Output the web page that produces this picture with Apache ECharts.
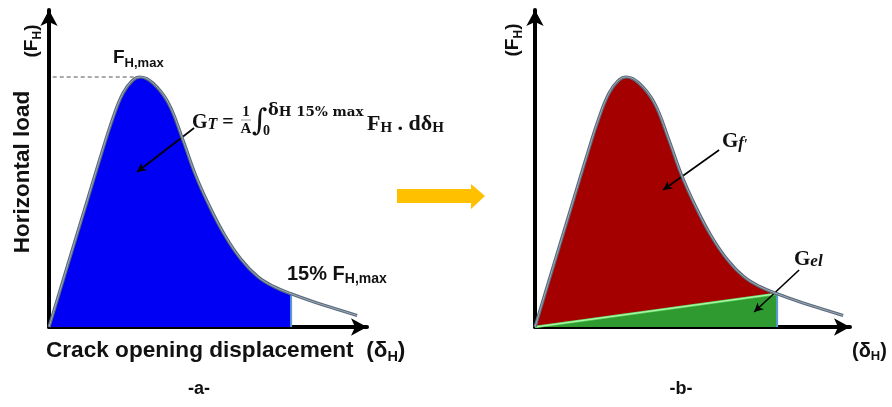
<!DOCTYPE html>
<html>
<head>
<meta charset="utf-8">
<script src="https://cdn.jsdelivr.net/npm/echarts@6/dist/echarts.min.js"></script>
<style>html,body{margin:0;padding:0;background:#fff}#c{width:892px;height:407px}</style>
</head>
<body>
<div id="c"></div>
<script>
// Crack opening displacement (arbitrary units) and horizontal load (% of F_H,max)
const dispX = [0, 0.35, 0.77, 1.23, 1.65, 2.06, 2.39, 2.71, 2.94, 3.35, 3.85, 4.30, 4.72, 5.17, 5.68, 6.20, 6.73, 7.23, 7.81, 8.60, 9.29, 9.94];
const loadY = [0, 14.4, 31.6, 50.4, 67.6, 83.5, 93.6, 98.8, 100, 97.6, 89.6, 75.5, 61, 48.5, 36.5, 27, 20.2, 16.3, 13.3, 9.8, 7.1, 4.6];
const cutIndex = 18;            // 15% F_H,max point
const peakIndex = 8;            // F_H,max point
// annotation arrows [from, to] in data units
const arrowGT  = [[4.68, 79.6], [2.84, 62]];
const arrowGf  = [[5.94, 70.8], [4.13, 54.8]];
const arrowGel = [[8.52, 22.8], [7.07, 6]];

const curve = dispX.map((x, i) => [x, loadY[i]]);
const filled = curve.slice(0, cutIndex + 1);
const cut = curve[cutIndex];
const peak = curve[peakIndex];

const chart = echarts.init(document.getElementById('c'), null, {renderer: 'canvas'});

function axisX(g, max) {
  return {gridIndex: g, type: 'value', min: 0, max: max,
    axisLine: {show: true, onZero: true, symbol: ['none', 'arrow'], symbolSize: [13, 16], lineStyle: {color: '#000', width: 4}},
    axisTick: {show: false}, axisLabel: {show: false}, splitLine: {show: false}};
}
function axisY(g) {
  return {gridIndex: g, type: 'value', min: 0, max: 126.8,
    axisLine: {show: true, symbol: ['none', 'arrow'], symbolSize: [13, 16], lineStyle: {color: '#000', width: 4}},
    axisTick: {show: false}, axisLabel: {show: false}, splitLine: {show: false}};
}
const base = {type: 'line', showSymbol: false, symbol: 'none', silent: true, animation: false};
const sm = {smooth: 0.4};
function arrowMark(a) {
  return {silent: true, symbol: ['none', 'arrow'], symbolSize: [7, 9], label: {show: false},
    lineStyle: {color: '#000', width: 1.6, type: 'solid'},
    data: [[{coord: a[0]}, {coord: a[1]}]]};
}
function panel(g, fillColor, withGreen, arrows) {
  const s = [];
  s.push(Object.assign({}, base, sm, {xAxisIndex: g, yAxisIndex: g, data: filled, z: 2,
    lineStyle: {width: 0}, areaStyle: {color: fillColor, opacity: 1}}));
  if (withGreen) {
    s.push(Object.assign({}, base, {xAxisIndex: g, yAxisIndex: g, data: [[0, 0], cut], z: 3,
      lineStyle: {color: '#5ee05e', width: 2.5}, areaStyle: {color: '#2f9a2f', opacity: 1}}));
    s.push(Object.assign({}, base, {xAxisIndex: g, yAxisIndex: g, data: [[0, 0], cut], z: 4,
      lineStyle: {color: '#d8f8d8', width: 0.8}}));
  }
  s.push(Object.assign({}, base, {xAxisIndex: g, yAxisIndex: g, data: [[cut[0], 0], cut], z: 4,
    lineStyle: {color: '#5b9bd5', width: 2}}));
  s.push(Object.assign({}, base, sm, {xAxisIndex: g, yAxisIndex: g, data: curve, z: 5,
    lineStyle: {color: '#5d6a78', width: 3.2}}));
  s.push(Object.assign({}, base, sm, {xAxisIndex: g, yAxisIndex: g, data: curve, z: 6,
    lineStyle: {color: '#a9bed2', width: 0.8}, markLine: arrowMark(arrows[0])}));
  for (let i = 1; i < arrows.length; i++) {
    s.push(Object.assign({}, base, {xAxisIndex: g, yAxisIndex: g, data: [], z: 7, markLine: arrowMark(arrows[i])}));
  }
  return s;
}

const series = [].concat(
  panel(0, '#0000f5', false, [arrowGT]),
  panel(1, '#a40000', true, [arrowGf, arrowGel])
);
series.push(Object.assign({}, base, {xAxisIndex: 0, yAxisIndex: 0, data: [[0.12, peak[1]], peak], z: 4,
  lineStyle: {color: '#555', width: 1, type: [4, 3]}}));

const sans = 'Liberation Sans, Arial, sans-serif';
const serif = 'Liberation Serif, Times New Roman, serif';
const dserif = 'DejaVu Serif, serif';
function txt(x, y, text, rich, opt) {
  return Object.assign({type: 'text', x: x, y: y, silent: true,
    style: {text: text, rich: rich, fill: '#111', font: 'bold 18px ' + sans, align: 'left', verticalAlign: 'middle'}}, opt || {});
}
const subRich = (big, small) => ({
  a: {fontSize: big, fontWeight: 'bold', fontFamily: sans, fill: '#111', lineHeight: big + 4, verticalAlign: 'bottom'},
  b: {fontSize: small, fontWeight: 'bold', fontFamily: sans, fill: '#111', lineHeight: big + 4, verticalAlign: 'bottom', padding: [0, 0, -2, 0]}
});
const serifRich = (big) => ({
  a: {fontSize: big, fontWeight: 'bold', fontFamily: serif, fill: '#111', verticalAlign: 'bottom', lineHeight: big + 3},
  i: {fontSize: big - 4, fontWeight: 'bold', fontStyle: 'italic', fontFamily: serif, fill: '#111', verticalAlign: 'bottom', lineHeight: big + 3},
  s: {fontSize: big - 7, fontWeight: 'bold', fontFamily: serif, fill: '#111', verticalAlign: 'bottom', lineHeight: big + 3}
});
const rotStyle = (text, rich, font) => ({text: text, rich: rich, font: font, fill: '#111', align: 'center', verticalAlign: 'middle'});

const graphic = [
  txt(23, 172, '', null, {rotation: Math.PI / 2, style: rotStyle('Horizontal load', null, 'bold 22.5px ' + sans)}),
  txt(30, 41, '', null, {rotation: Math.PI / 2, style: rotStyle('{a|(F}{b|H}{a|)}', subRich(19, 12))}),
  txt(511, 40, '', null, {rotation: Math.PI / 2, style: rotStyle('{a|(F}{b|H}{a|)}', subRich(19, 12))}),
  txt(113, 56, '{a|F}{b|H,max}', subRich(19, 13)),
  txt(287, 272, '{a|15% F}{b|H,max}', subRich(20, 14)),
  txt(46, 349, '{a|Crack opening displacement  (δ}{b|H}{a|)}', subRich(22.6, 14.5)),
  txt(852, 349, '{a|(δ}{b|H}{a|)}', subRich(20, 13)),
  txt(199, 389, '', null, {style: {text: '-a-', fill: '#111', font: 'bold 18px ' + sans, align: 'center', verticalAlign: 'middle'}}),
  txt(681, 389, '', null, {style: {text: '-b-', fill: '#111', font: 'bold 18px ' + sans, align: 'center', verticalAlign: 'middle'}}),
  // formula G_T = 1/A ∫ ... F_H . dδ_H
  txt(192, 121, '{a|G}{i|T}{a| =}', serifRich(20)),
  txt(246, 112, '', null, {style: {text: '1', fill: '#111', font: 'bold 15px ' + serif, align: 'center', verticalAlign: 'middle'}}),
  {type: 'line', silent: true, shape: {x1: 241, y1: 120, x2: 251, y2: 120}, style: {stroke: '#555', lineWidth: 0.6}},
  txt(246, 129, '', null, {style: {text: 'A', fill: '#111', font: 'bold 15px ' + serif, align: 'center', verticalAlign: 'middle'}}),
  txt(252, 122, '', null, {style: {text: '∫', fill: '#111', font: '30px ' + dserif, align: 'left', verticalAlign: 'middle'}}),
  txt(263, 131, '', null, {style: {text: '0', fill: '#111', font: 'bold 14px ' + serif, align: 'left', verticalAlign: 'middle'}}),
  txt(268, 110, '{d|δ}{s|H 15% max}', {d: {fontSize: 16, fontWeight: 'bold', fontFamily: dserif, fill: '#111', verticalAlign: 'bottom', lineHeight: 18}, s: {fontSize: 13.5, fontWeight: 'bold', fontFamily: dserif, fill: '#111', verticalAlign: 'bottom', lineHeight: 18}}),
  txt(367, 123, '{a|F}{s|H}{a| . dδ}{s|H}', serifRich(22)),
  txt(722, 140, '{a|G}{i|f}{s|′}', serifRich(21)),
  txt(794, 258, '{a|G}{i|el}', serifRich(21)),
  // orange arrow
  {type: 'polygon', silent: true, shape: {points: [[397, 189], [471, 189], [471, 184], [485, 196], [471, 209], [471, 203], [397, 203]]}, style: {fill: '#ffc000'}}
];

chart.setOption({
  animation: false,
  grid: [
    {left: 49, top: 10, width: 318, height: 317},
    {left: 535, top: 10, width: 315, height: 317}
  ],
  xAxis: [axisX(0, 318 / 31), axisX(1, 315 / 31)],
  yAxis: [axisY(0), axisY(1)],
  series: series,
  graphic: graphic
});
</script>
</body>
</html>
